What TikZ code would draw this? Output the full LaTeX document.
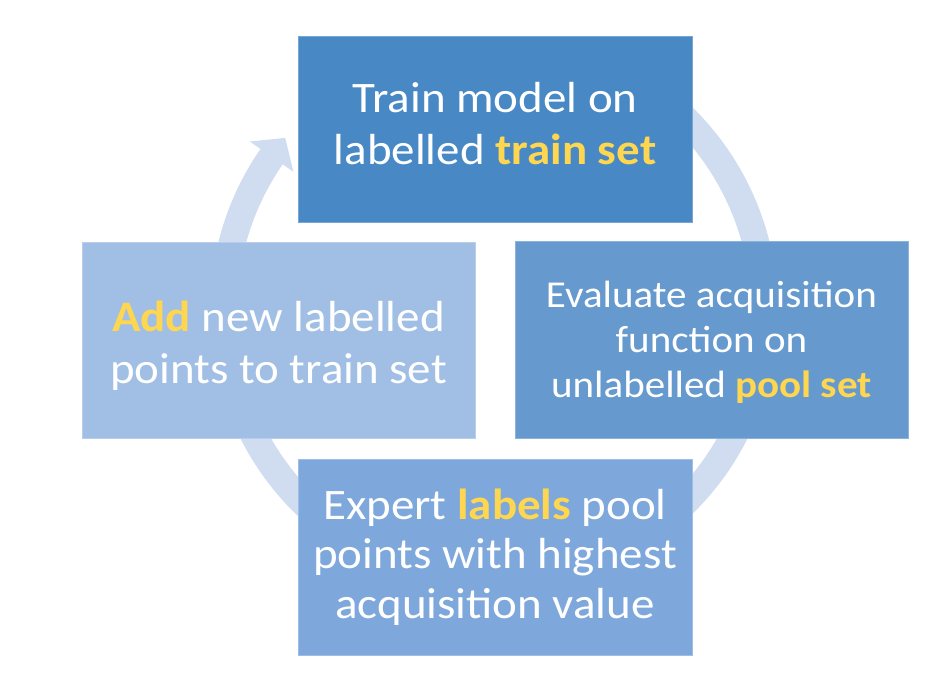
\documentclass[tikz,border=0pt]{standalone}
\usepackage{fontspec}
\setmainfont{Carlito}[FakeStretch=1.08]
\usetikzlibrary{calc}
\definecolor{ctop}{RGB}{72,137,197}
\definecolor{cright}{RGB}{102,154,206}
\definecolor{cbottom}{RGB}{126,168,219}
\definecolor{cleft}{RGB}{161,191,229}
\definecolor{cring}{RGB}{208,221,240}
\definecolor{cyel}{RGB}{255,214,80}
\newcommand{\hl}[1]{{\bfseries\color{cyel}#1}}
\tikzset{
  box/.style={rectangle, inner sep=0pt, line width=1pt},
  boxtext/.style={inner sep=0pt, text=white, align=center},
  ring/.style={draw=cring, line width=27pt, line cap=butt},
}
\begin{document}
\begin{tikzpicture}[x=1pt,y=1pt]
\useasboundingbox (0,0) rectangle (934,683);
\coordinate (c) at (494,372.4);
% circular arrow behind the boxes
\draw[ring] ($(c)+(65:270.5pt)$) arc[start angle=65, end angle=-215, radius=270.5pt];
\fill[cring] ($(c)+(145.3:297pt)$) -- ($(c)+(140.4:271pt)$) -- ($(c)+(145.3:244pt)$) -- cycle;
% boxes
\node[box, fill=ctop, draw=ctop!75!white, minimum width=394pt, minimum height=186pt] (train) at (495,553.5) {};
\node[box, fill=cright, draw=cright!75!white, minimum width=393pt, minimum height=197pt] (eval) at (711.5,342.5) {};
\node[box, fill=cbottom, draw=cbottom!75!white, minimum width=394pt, minimum height=195pt] (expert) at (495,125.5) {};
\node[box, fill=cleft, draw=cleft!75!white, minimum width=393pt, minimum height=196pt] (add) at (278.5,342.5) {};
% texts
\node[boxtext, font=\fontsize{43.5}{52}\selectfont] (train-t) at (495,559.2)
  {Train model on\\labelled \hl{train set}};
\node[boxtext, font=\fontsize{38}{45}\selectfont] (eval-t) at (711.5,341.2)
  {Evaluate acquisition\\function on\\unlabelled \hl{pool set}};
\node[boxtext, font=\fontsize{43.5}{49.5}\selectfont] (expert-t) at (495,126)
  {Expert \hl{labels} pool\\points with highest\\acquisition value};
\node[boxtext, font=\fontsize{43.5}{52}\selectfont] (add-t) at (278.5,337.6)
  {\hl{Add} new labelled\\points to train set};
\end{tikzpicture}
\end{document}
